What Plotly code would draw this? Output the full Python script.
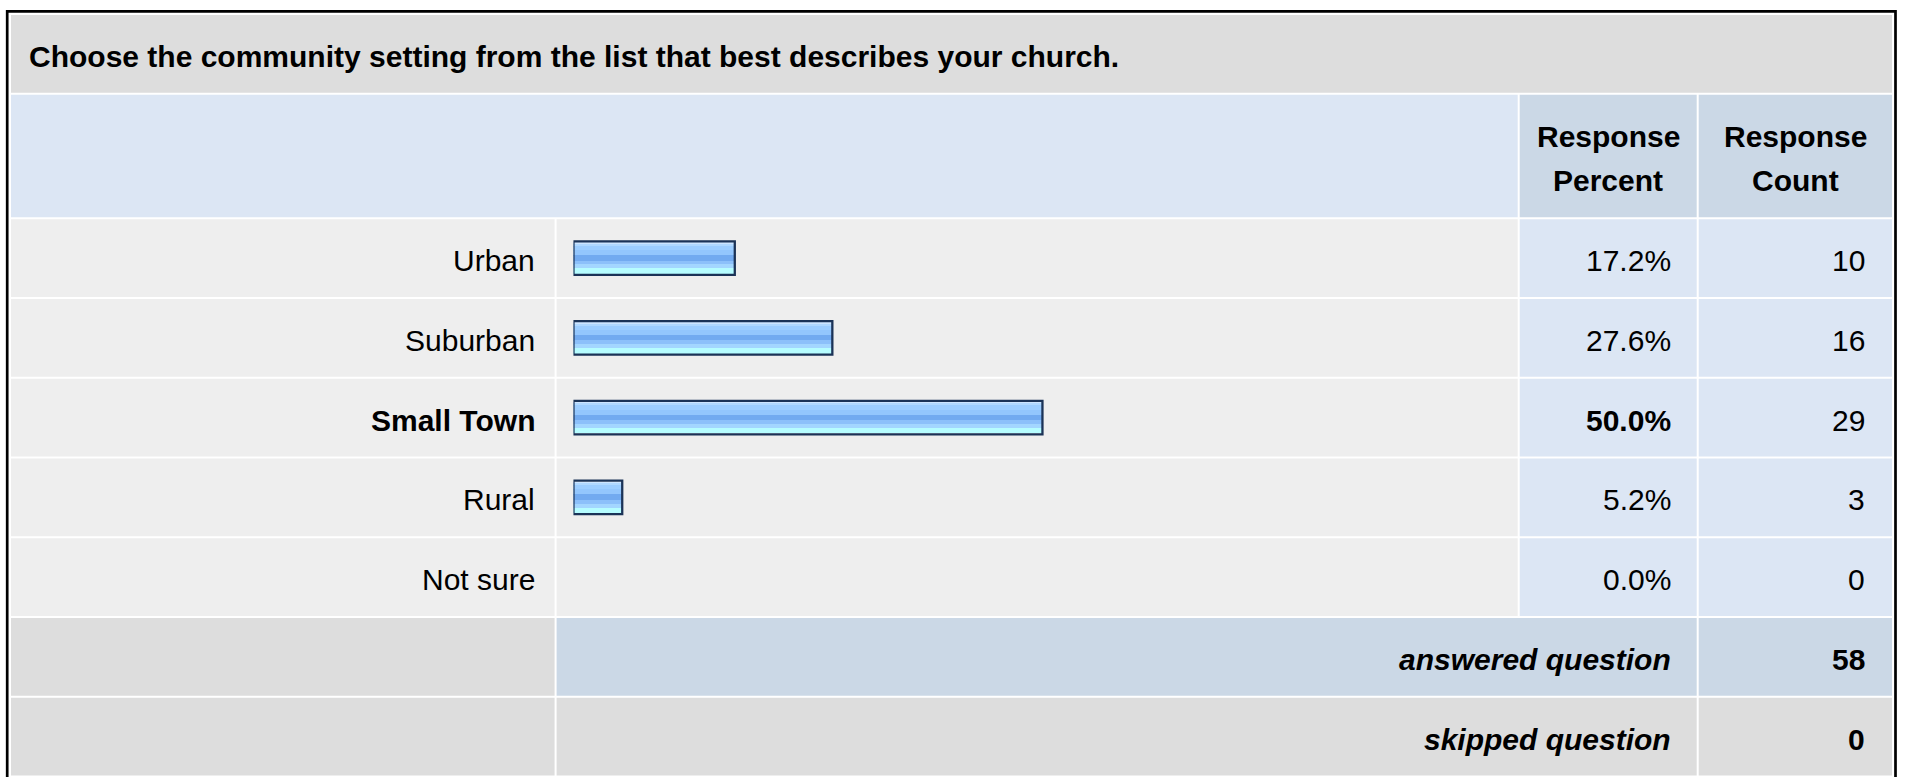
import plotly.graph_objects as go

# ---------------- survey data ----------------
question = "Choose the community setting from the list that best describes your church."
answer_choices = ["Urban", "Suburban", "Small Town", "Rural", "Not sure"]
response_percent = [17.2, 27.6, 50.0, 5.2, 0.0]
response_count = [10, 16, 29, 3, 0]
answered_question = 58
skipped_question = 0
percent_header = ["Response", "Percent"]
count_header = ["Response", "Count"]
summary_labels = ["answered question", "skipped question"]
summary_values = [answered_question, skipped_question]

# ---------------- page geometry (pixels) ----------------
W, H = 1907, 777
COL_LABEL = (11.0, 554.6)
COL_BAR = (556.6, 1517.7)
COL_PCT = (1519.7, 1696.7)
COL_CNT = (1698.7, 1892.0)
TITLE_ROW = (15.0, 92.7)
HEAD_ROW = (94.7, 217.3)
ROW_TOP0, ROW_PITCH, ROW_H = 219.3, 79.75, 77.6
TEXT_DY = 2.5

BAR_ZERO_X = 573.45      # pixel position of 0 %
PX_PER_PCT = 9.38        # bar length per percentage point
BAR_H = 35.7             # outer bar height including outline
BAR_LINE = 2.3

FONT = "Liberation Sans, Arial, Helvetica, sans-serif"
FS = 30
TXT = "#000000"

C_TITLE = "#DDDDDD"
C_HEAD = "#DCE6F4"
C_HEAD_CELL = "#CBD8E6"
C_ROW = "#EEEEEE"
C_ROW_NUM = "#DCE6F4"
C_SUM_GRAY = "#DDDDDD"
C_SUM_BLUE = "#CBD8E6"
C_BAR_LINE = "#1B3357"

# horizontal gradient bands inside each bar (fraction of inner height, colour)
BAR_BANDS = [
    (0.000, 0.055, "#CDE5FF"),
    (0.055, 0.120, "#B0D8FF"),
    (0.120, 0.250, "#9CCDFF"),
    (0.250, 0.410, "#93C6FD"),
    (0.410, 0.590, "#72AAF0"),
    (0.590, 0.710, "#8CC0FA"),
    (0.710, 0.840, "#A3D6FF"),
    (0.840, 1.000, "#B6FDFF"),
]


def row_top(i):
    return ROW_TOP0 + i * ROW_PITCH


def row_mid(i):
    return row_top(i) + ROW_H / 2


shapes = []


def cell(x0, x1, y0, y1, color):
    shapes.append(dict(type="rect", xref="x", yref="y", x0=x0, x1=x1, y0=y0, y1=y1,
                       fillcolor=color, line=dict(width=0), layer="below"))


# outer frame
shapes.append(dict(type="rect", xref="x", yref="y", x0=7.2, x1=1895.5, y0=11.35, y1=H + 30,
                   line=dict(color="#000000", width=2.7), fillcolor="rgba(0,0,0,0)", layer="below"))

# title row and column header row
cell(COL_LABEL[0], COL_CNT[1], *TITLE_ROW, C_TITLE)
cell(COL_LABEL[0], COL_BAR[1], *HEAD_ROW, C_HEAD)
cell(*COL_PCT, *HEAD_ROW, C_HEAD_CELL)
cell(*COL_CNT, *HEAD_ROW, C_HEAD_CELL)

# answer rows
n = len(answer_choices)
for i in range(n):
    y0, y1 = row_top(i), row_top(i) + ROW_H
    cell(*COL_LABEL, y0, y1, C_ROW)
    cell(*COL_BAR, y0, y1, C_ROW)
    cell(*COL_PCT, y0, y1, C_ROW_NUM)
    cell(*COL_CNT, y0, y1, C_ROW_NUM)

# summary rows
for k in range(len(summary_labels)):
    i = n + k
    y0, y1 = row_top(i), row_top(i) + ROW_H
    fill = C_SUM_BLUE if k == 0 else C_SUM_GRAY
    cell(*COL_LABEL, y0, y1, C_SUM_GRAY)
    cell(COL_BAR[0], COL_PCT[1], y0, y1, fill)
    cell(*COL_CNT, y0, y1, fill)

# ---------------- bars ----------------
bar_pct = [p for p in response_percent if p > 0]
bar_y = [row_mid(i) for i, p in enumerate(response_percent) if p > 0]

inner_h = BAR_H - 2 * BAR_LINE
traces = []
for f0, f1, color in BAR_BANDS:
    traces.append(go.Bar(
        x=bar_pct, y=bar_y, orientation="h", base=0,
        xaxis="x2", yaxis="y",
        offset=-BAR_H / 2 + BAR_LINE + f0 * inner_h - 0.3,
        width=(f1 - f0) * inner_h + 0.6,
        marker=dict(color=color, line=dict(width=0)),
        hoverinfo="skip", showlegend=False,
    ))
traces.append(go.Bar(
    x=bar_pct, y=bar_y, orientation="h", base=0,
    xaxis="x2", yaxis="y",
    offset=-(BAR_H - BAR_LINE) / 2, width=BAR_H - BAR_LINE,
    marker=dict(color="rgba(0,0,0,0)", line=dict(color=C_BAR_LINE, width=BAR_LINE)),
    hoverinfo="skip", showlegend=False,
))

fig = go.Figure(traces)

# ---------------- text ----------------
ann = []


def text(x, y, s, anchor, size=FS):
    ann.append(dict(x=x, y=y, xref="x", yref="y", text=s, showarrow=False,
                    xanchor=anchor, yanchor="middle",
                    font=dict(family=FONT, size=size, color=TXT)))


text(27.3, (TITLE_ROW[0] + TITLE_ROW[1]) / 2 + TEXT_DY, "<b>%s</b>" % question, "left")

pct_mid = (COL_PCT[0] + COL_PCT[1]) / 2
cnt_mid = (COL_CNT[0] + COL_CNT[1]) / 2
for line_no, (a, b) in enumerate(zip(percent_header, count_header)):
    yy = 136.2 + line_no * 44.5
    text(pct_mid, yy, "<b>%s</b>" % a, "center")
    text(cnt_mid, yy, "<b>%s</b>" % b, "center")

top_pct = max(response_percent)
for i, (lab, p, c) in enumerate(zip(answer_choices, response_percent, response_count)):
    yy = row_mid(i) + TEXT_DY
    hi = p == top_pct
    text(COL_LABEL[1] - 17.3, yy, ("<b>%s</b>" if hi else "%s") % lab, "right")
    text(COL_PCT[1] - 24.0, yy, ("<b>%.1f%%</b>" if hi else "%.1f%%") % p, "right")
    text(COL_CNT[1] - 25.0, yy, "%d" % c, "right")

for k, (lab, v) in enumerate(zip(summary_labels, summary_values)):
    yy = row_mid(n + k) + TEXT_DY
    text(COL_PCT[1] - 23.4, yy, "<b><i>%s</i></b>" % lab, "right")
    text(COL_CNT[1] - 25.0, yy, "<b>%d</b>" % v, "right")

fig.update_layout(
    width=W, height=H, autosize=False,
    margin=dict(l=0, r=0, t=0, b=0, pad=0),
    paper_bgcolor="#FFFFFF", plot_bgcolor="rgba(0,0,0,0)",
    barmode="overlay", bargap=0,
    shapes=shapes, annotations=ann,
    xaxis=dict(range=[0, W], visible=False, fixedrange=True, domain=[0, 1]),
    xaxis2=dict(range=[0, 100], visible=False, fixedrange=True, anchor="y",
                domain=[BAR_ZERO_X / W, (BAR_ZERO_X + 100 * PX_PER_PCT) / W]),
    yaxis=dict(range=[H, 0], visible=False, fixedrange=True, domain=[0, 1]),
    showlegend=False,
)

fig.write_html("out.html", config={"displayModeBar": False, "staticPlot": True})
